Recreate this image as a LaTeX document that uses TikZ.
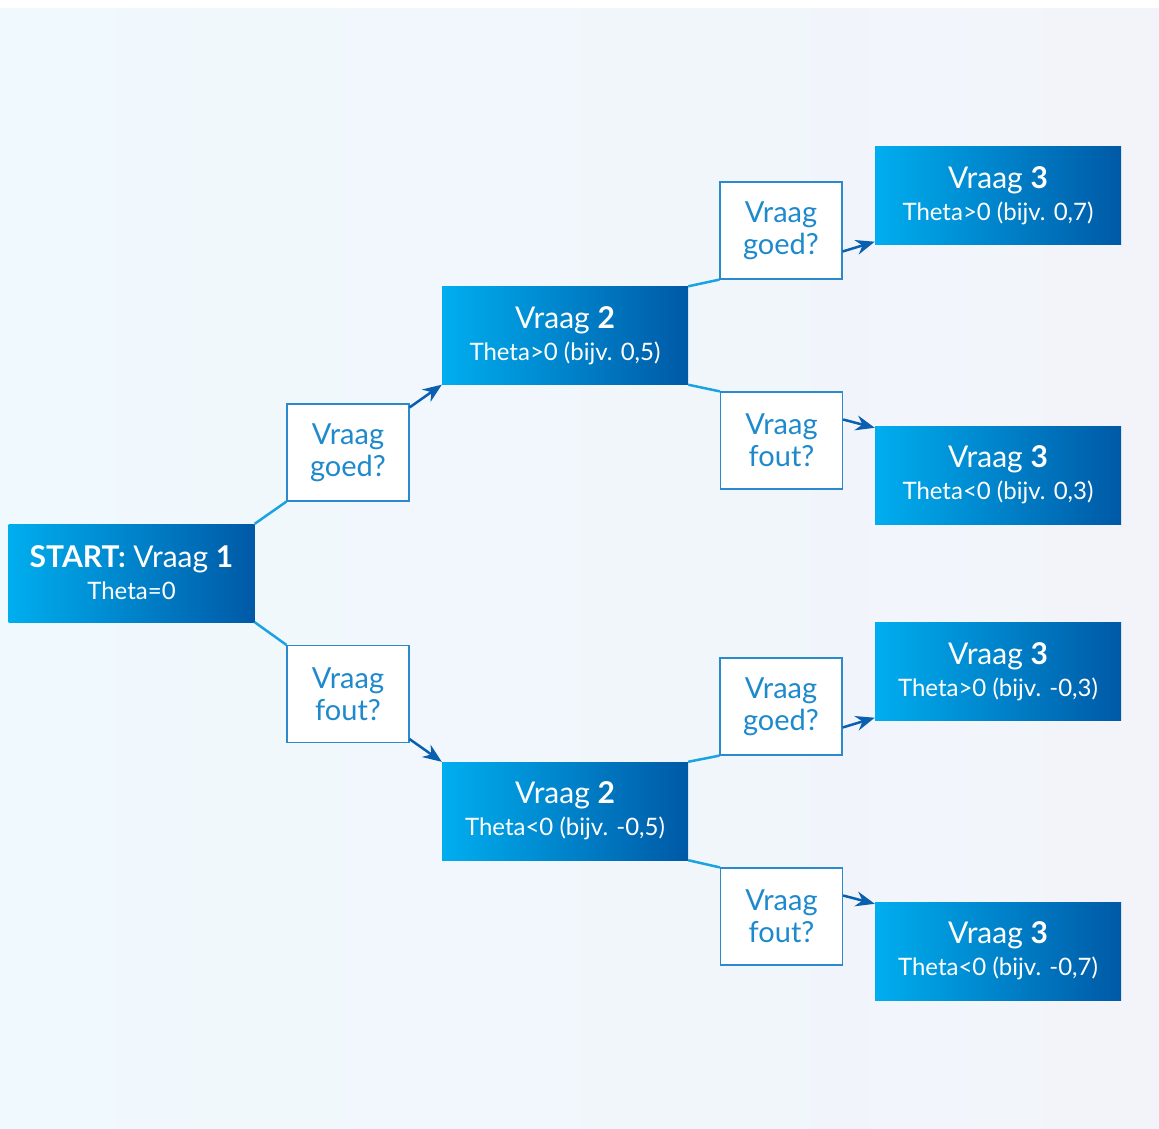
\documentclass[tikz,border=0pt]{standalone}
\usepackage{fontspec}
\setmainfont{Lato}
\usetikzlibrary{arrows.meta}
\definecolor{bgleft}{HTML}{F0F9FD}
\definecolor{bgright}{HTML}{F2F4FA}
\definecolor{boxleft}{HTML}{00AEEF}
\definecolor{boxright}{HTML}{0059A6}
\definecolor{linkblue}{HTML}{1AA3E3}
\definecolor{arrowblue}{HTML}{0A5FAF}
\definecolor{qtext}{HTML}{1E8ACD}
\definecolor{qborder}{HTML}{2A8ACB}
\tikzstyle{vraag} = [rectangle, minimum width=246pt, minimum height=98pt, inner sep=0pt, align=center, text=white, left color=boxleft, right color=boxright, font=\fontsize{30}{36}\selectfont]
\tikzstyle{check} = [rectangle, minimum width=122pt, minimum height=97pt, inner sep=0pt, align=center, text=qtext, fill=white, draw=qborder, line width=1.2pt, font=\fontsize{29}{32}\selectfont]
\tikzstyle{link} = [linkblue, line width=2.5pt]
\tikzstyle{arrow} = [arrowblue, line width=2.5pt, -{Stealth[length=19pt,width=15pt]}]
\newcommand{\thetaline}[1]{\\[-4pt]{\fontsize{24}{28}\selectfont #1}}

\begin{document}
\begin{tikzpicture}[x=1pt, y=-1pt]
    % Background
    \useasboundingbox (0,0) rectangle (1159,1128);
    \shade[left color=bgleft, right color=bgright] (0,8) rectangle (1159,1128);

    % Place nodes
    \node (start) [vraag] at (131.5,573) {\textbf{START:} Vraag \textbf{1}\thetaline{Theta=0}};
    \node (goed1) [check] at (348,452.5) {Vraag\\goed?};
    \node (fout1) [check] at (348,694) {Vraag\\fout?};

    \node (v2top) [vraag] at (565,335.5) {Vraag \textbf{2}\thetaline{Theta>0 (bijv. 0,5)}};
    \node (v2bot) [vraag] at (565,811) {Vraag \textbf{2}\thetaline{Theta<0 (bijv. -0,5)}};

    \node (goed2a) [check] at (781,230.5) {Vraag\\goed?};
    \node (fout2a) [check] at (781.5,440.5) {Vraag\\fout?};
    \node (goed2b) [check] at (781,706.5) {Vraag\\goed?};
    \node (fout2b) [check] at (781.5,916.5) {Vraag\\fout?};

    \node (v3a) [vraag] at (998,195.5) {Vraag \textbf{3}\thetaline{Theta>0 (bijv. 0,7)}};
    \node (v3b) [vraag] at (998,475) {Vraag \textbf{3}\thetaline{Theta<0 (bijv. 0,3)}};
    \node (v3c) [vraag] at (998,671.5) {Vraag \textbf{3}\thetaline{Theta>0 (bijv. -0,3)}};
    \node (v3d) [vraag] at (998,951) {Vraag \textbf{3}\thetaline{Theta<0 (bijv. -0,7)}};

    % Connect nodes
    \draw [link] (start.north east) -- (goed1.south west);
    \draw [link] (start.south east) -- (fout1.north west);
    \draw [arrow] ([yshift=-4pt]goed1.north east) -- (v2top.south west);
    \draw [arrow] ([yshift=4pt]fout1.south east) -- (v2bot.north west);

    \draw [link] (v2top.north east) -- (goed2a.south west);
    \draw [link] (v2top.south east) -- (fout2a.north west);
    \draw [link] (v2bot.north east) -- (goed2b.south west);
    \draw [link] (v2bot.south east) -- (fout2b.north west);

    \draw [arrow] ([yshift=-21pt]goed2a.east) -- ([yshift=3pt]v3a.south west);
    \draw [arrow] ([yshift=21pt]fout2a.east) -- ([yshift=-2pt]v3b.north west);
    \draw [arrow] ([yshift=-21pt]goed2b.east) -- ([yshift=3pt]v3c.south west);
    \draw [arrow] ([yshift=21pt]fout2b.east) -- ([yshift=-2pt]v3d.north west);
\end{tikzpicture}
\end{document}
